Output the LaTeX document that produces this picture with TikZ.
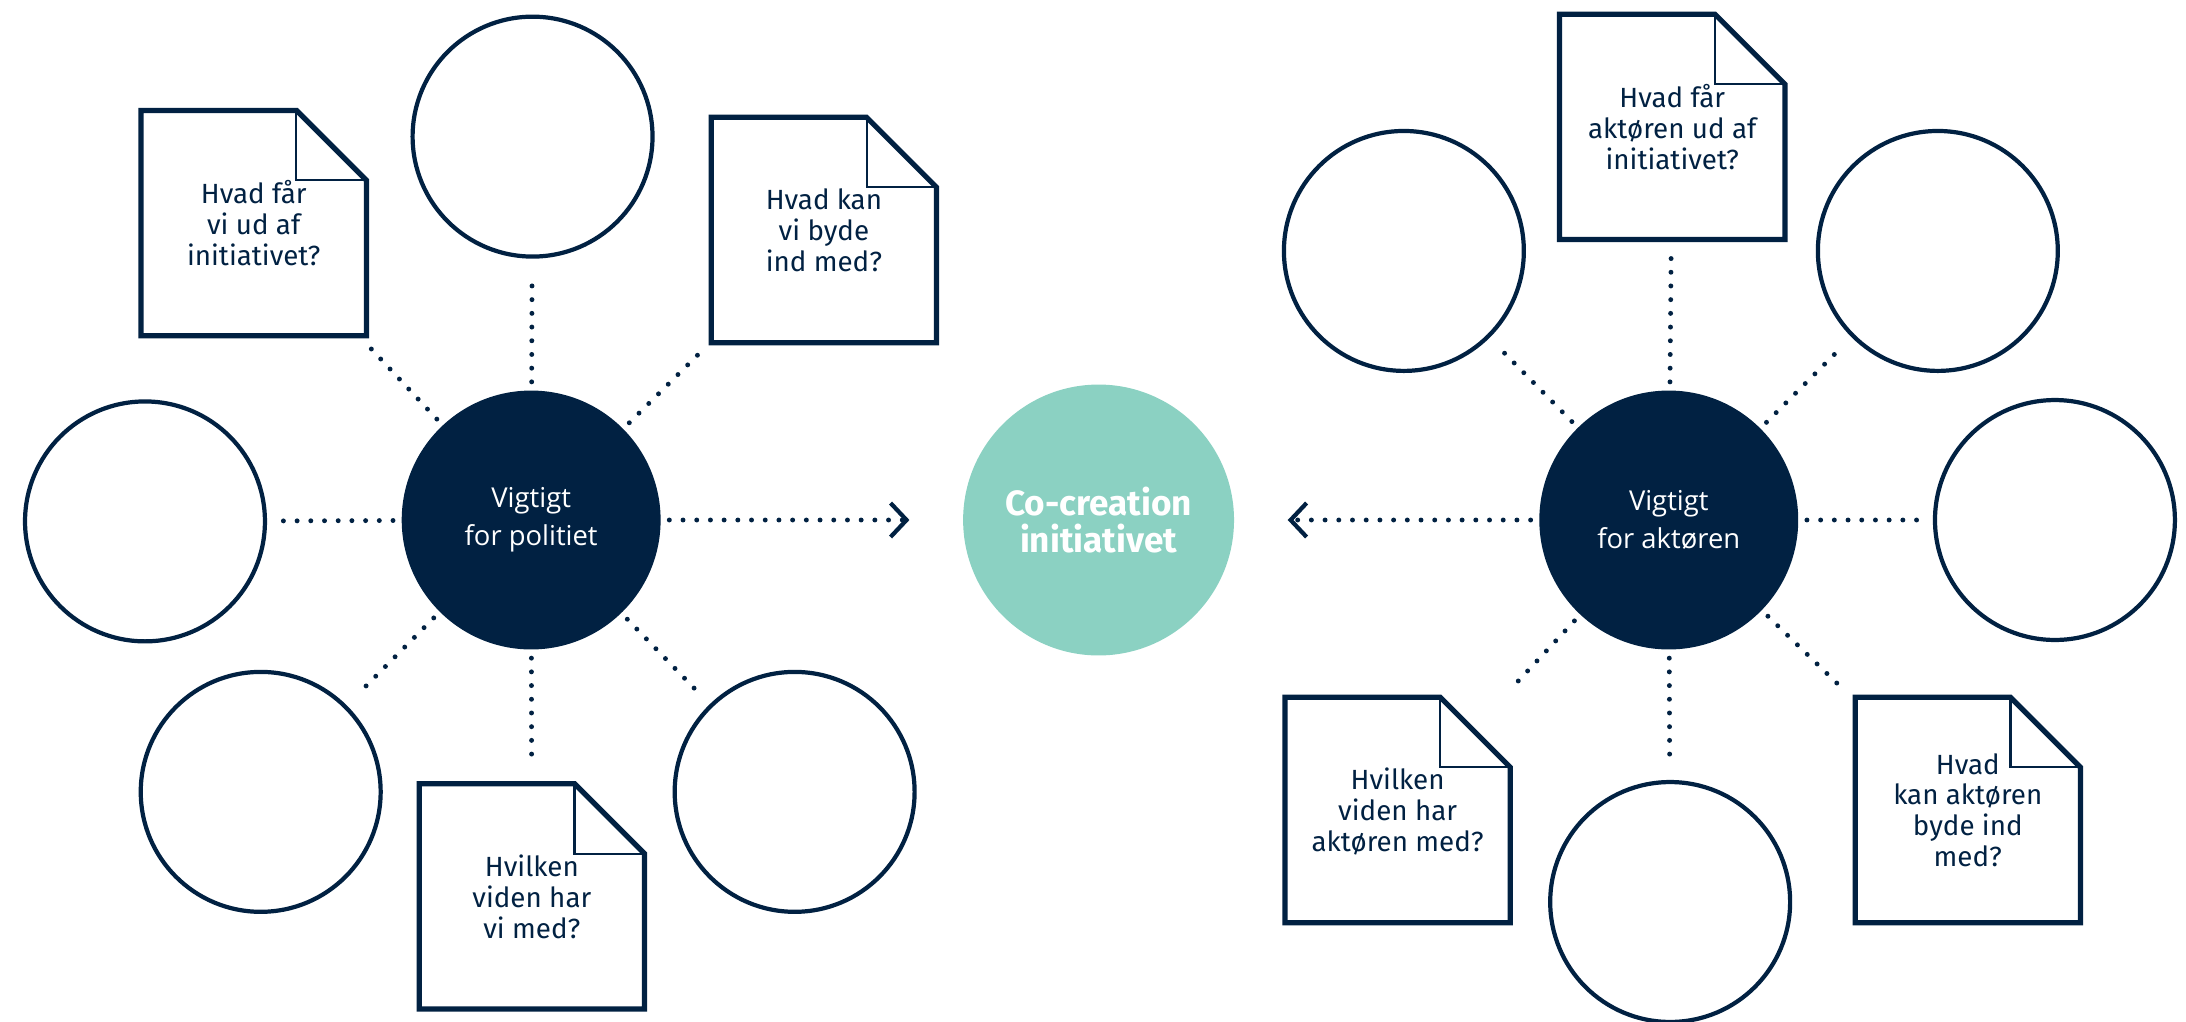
\documentclass[tikz,border=0pt]{standalone}
\usepackage{fontspec}
\setmainfont{Open Sans}
\newfontfamily\notefont{Fira Sans}
\usetikzlibrary{arrows.meta}
\definecolor{navy}{RGB}{1,33,66}
\definecolor{mint}{RGB}{139,209,194}

\begin{document}
\begin{tikzpicture}[x = 0.01394cm, y = -0.01394cm]

    \tikzset{
      hub/.style={
        circle,
        fill = navy,
        text = white,
        minimum size = 2.59cm,
        inner sep = 0pt,
        align = center,
        font = \fontsize{7.8}{10.7}\selectfont,
      },
      core/.style={
        hub,
        fill = mint,
        minimum size = 2.71cm,
        font = \notefont\bfseries\fontsize{10}{10.7}\selectfont,
      },
      ring/.style={
        circle,
        draw = navy,
        line width = 1.2pt,
        fill = white,
        inner sep = 0pt,
        minimum size = 2.40cm,
      },
      note/.style={
        inner sep = 0pt,
        minimum width = 2.24cm,
        minimum height = 2.24cm,
        align = center,
        text = navy,
        text depth = -4.5pt,
        font = \notefont\fontsize{7.9}{8.8}\selectfont,
      },
      noteline/.style={draw = navy, line width = 1.5pt},
      foldline/.style={draw = navy, line width = 0.6pt},
      dots/.style={
        navy,
        line width = 1.4pt,
        line cap = round,
        dash pattern = on 0pt off 3.9pt,
        shorten < = 0.8mm,
        shorten > = 1.6mm,
      },
      flow/.style={
        dots,
        -{Straight Barb[length = 1.6mm, width = 3.4mm, line width = 1.2pt]},
        shorten > = 5.3mm,
      },
    }
    \useasboundingbox (0,0) rectangle (1568,733);

	\draw (381,373) node[hub] (hubL) {Vigtigt\\for politiet};
	\draw (788,373) node[core] (core) {Co-creation\\initiativet};
	\draw (1197,373) node[hub] (hubR) {Vigtigt\\for aktøren};

	\draw (382,98) node[ring] (lTop) {};
	\draw (104,374) node[ring] (lLeft) {};
	\draw (187,568) node[ring] (lLowL) {};
	\draw (570,568) node[ring] (lLowR) {};
	\draw (182,160) node[note] (nGet) {Hvad får\\vi ud af\\initiativet?};
	\draw (591,165) node[note] (nGive) {Hvad kan\\vi byde\\ind med?};
	\draw (381.5,643) node[note] (nKnow) {Hvilken\\viden har\\vi med?};

	\draw (1007,180) node[ring] (rUpL) {};
	\draw (1390,180) node[ring] (rUpR) {};
	\draw (1474,373) node[ring] (rRight) {};
	\draw (1198,647) node[ring] (rLow) {};
	\draw (1199.5,91) node[note] (mGet) {Hvad får\\aktøren ud af\\initiativet?};
	\draw (1002.5,581) node[note] (mKnow) {Hvilken\\viden har\\aktøren med?};
	\draw (1411.5,581) node[note] (mGive) {Hvad\\kan aktøren\\byde ind\\med?};

	\draw[noteline] (nGet.south west) -- (nGet.north west) -- ([xshift = -0.7cm]nGet.north east) -- ([yshift = -0.7cm]nGet.north east) -- (nGet.south east) -- cycle;
	\draw[noteline] (nGive.south west) -- (nGive.north west) -- ([xshift = -0.7cm]nGive.north east) -- ([yshift = -0.7cm]nGive.north east) -- (nGive.south east) -- cycle;
	\draw[noteline] (nKnow.south west) -- (nKnow.north west) -- ([xshift = -0.7cm]nKnow.north east) -- ([yshift = -0.7cm]nKnow.north east) -- (nKnow.south east) -- cycle;
	\draw[noteline] (mGet.south west) -- (mGet.north west) -- ([xshift = -0.7cm]mGet.north east) -- ([yshift = -0.7cm]mGet.north east) -- (mGet.south east) -- cycle;
	\draw[noteline] (mKnow.south west) -- (mKnow.north west) -- ([xshift = -0.7cm]mKnow.north east) -- ([yshift = -0.7cm]mKnow.north east) -- (mKnow.south east) -- cycle;
	\draw[noteline] (mGive.south west) -- (mGive.north west) -- ([xshift = -0.7cm]mGive.north east) -- ([yshift = -0.7cm]mGive.north east) -- (mGive.south east) -- cycle;
	\draw[foldline] ([xshift = -0.7cm]nGet.north east) |- ([yshift = -0.7cm]nGet.north east);
	\draw[foldline] ([xshift = -0.7cm]nGive.north east) |- ([yshift = -0.7cm]nGive.north east);
	\draw[foldline] ([xshift = -0.7cm]nKnow.north east) |- ([yshift = -0.7cm]nKnow.north east);
	\draw[foldline] ([xshift = -0.7cm]mGet.north east) |- ([yshift = -0.7cm]mGet.north east);
	\draw[foldline] ([xshift = -0.7cm]mKnow.north east) |- ([yshift = -0.7cm]mKnow.north east);
	\draw[foldline] ([xshift = -0.7cm]mGive.north east) |- ([yshift = -0.7cm]mGive.north east);

	\draw[dots] (hubL) -- (lTop);
	\draw[dots] (hubL) -- (lLeft);
	\draw[dots] (hubL) -- (lLowL);
	\draw[dots] (hubL) -- (lLowR);
	\draw[dots] (hubL) -- (nGet);
	\draw[dots] (hubL) -- (nGive);
	\draw[dots] (hubL) -- (nKnow);
	\draw[dots] (hubR) -- (rUpL);
	\draw[dots] (hubR) -- (rUpR);
	\draw[dots] (hubR) -- (rRight);
	\draw[dots] (hubR) -- (rLow);
	\draw[dots] (hubR) -- (mGet);
	\draw[dots] (hubR) -- (mKnow);
	\draw[dots] (hubR) -- (mGive);
	\draw[flow] (hubL) -- (core);
	\draw[flow] (hubR) -- (core);

\end{tikzpicture}
\end{document}
